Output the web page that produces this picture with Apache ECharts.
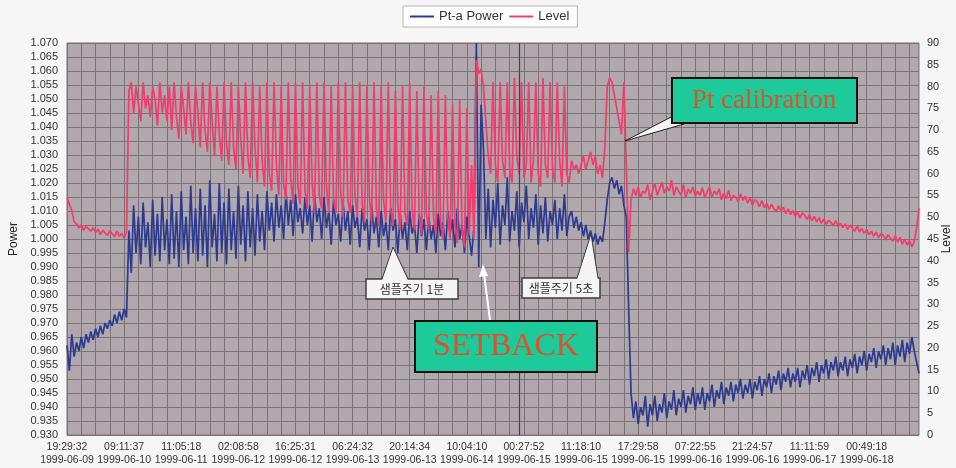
<!DOCTYPE html>
<html>
<head>
<meta charset="utf-8">
<title>Pt-a Power / Level</title>
<script src="https://cdn.jsdelivr.net/npm/echarts@6/dist/echarts.min.js"></script>
<style>
  html, body { margin: 0; padding: 0; background: #f6f6f6; }
  #chart { width: 956px; height: 468px; }
</style>
</head>
<body>
<div id="chart"></div>
<script>
// Tick labels shown under the sample axis (one every SAMPLES_PER_LABEL samples)
const tickTimes = ['19:29:32', '09:11:37', '11:05:18', '02:08:58', '16:25:31', '06:24:32', '20:14:34',
  '10:04:10', '00:27:52', '11:18:10', '17:29:58', '07:22:55', '21:24:57', '11:11:59', '00:49:18'];
const tickDates = ['1999-06-09', '1999-06-10', '1999-06-11', '1999-06-12', '1999-06-12', '1999-06-13', '1999-06-13',
  '1999-06-14', '1999-06-15', '1999-06-15', '1999-06-15', '1999-06-16', '1999-06-16', '1999-06-17', '1999-06-18'];
const SAMPLES_PER_LABEL = 24;
const SAMPLES_PER_GRID = 6;

// Pt-a Power, by operating phase
const powerInitial = [0.962, 0.953, 0.966, 0.958, 0.963, 0.960, 0.965, 0.961, 0.966, 0.963, 0.967, 0.964, 0.968,
  0.965, 0.969, 0.966, 0.970, 0.968, 0.971, 0.969, 0.973, 0.970, 0.974, 0.971, 0.975, 0.972];
const powerOscillating = [
  1.003, 0.988, 1.012, 0.995, 1.008, 0.991, 1.013, 0.997, 1.006, 0.990, 1.014, 0.994, 1.009, 0.992, 1.015, 0.996, 1.007, 0.991,
  1.016, 0.993, 1.010, 0.990, 1.017, 0.996, 1.008, 0.991, 1.019, 0.995, 1.011, 0.992, 1.018,
  0.994, 1.012, 0.990, 1.021, 0.997, 1.009, 0.992, 1.020, 0.995, 1.013, 0.991, 1.018,
  0.996, 1.010, 0.993, 1.019, 0.998, 1.012, 0.992, 1.017, 0.997, 1.011, 0.994, 1.016, 0.999,
  1.010, 0.996, 1.017, 1.003, 1.013, 0.999, 1.016, 1.004, 1.012, 1.000, 1.017, 1.005, 1.014, 1.001, 1.016, 1.006, 1.011,
  1.002, 1.015, 1.005, 1.012, 0.999, 1.016, 1.006, 1.011, 1.000, 1.015, 1.004, 1.010, 0.998, 1.014, 1.005, 1.009, 0.999,
  1.013, 1.003, 1.010, 0.998, 1.012, 1.004, 1.008, 0.997,
  1.011, 1.003, 1.007, 0.996, 1.012, 1.002, 1.008, 0.997, 1.010, 1.001, 1.006, 0.996, 1.011, 1.003, 1.007, 0.995, 1.009,
  1.000, 1.006, 0.996, 1.010, 1.002, 1.005, 0.995, 1.009, 1.001, 1.007, 0.996, 1.008, 1.000, 1.005, 0.995, 1.009, 1.001,
  1.006, 0.996, 1.010, 1.002, 1.007, 0.997, 1.011, 1.000, 1.005, 0.995, 1.008, 1.001, 0.994, 1.004];
const powerSetback = [1.070, 0.990, 1.048];
const powerRecovery = [
  1.032, 1.000, 1.018, 0.997, 1.014, 1.004, 1.020, 0.998, 1.012, 1.005, 1.022, 0.999, 1.010, 1.003, 1.017, 0.997,
  1.013, 1.006, 1.019, 1.000, 1.011, 1.004, 1.016, 0.998, 1.012, 1.002, 1.015, 0.999, 1.010, 1.005, 1.014, 1.000,
  1.011, 1.003, 1.016, 1.001, 1.008,
  1.010, 1.004, 1.008, 1.003, 1.006, 1.001, 1.005, 1.000, 1.003, 0.999, 1.002, 0.998, 1.001, 0.999, 1.006];
const powerCalibration = [1.014, 1.020, 1.022, 1.018, 1.021, 1.016, 1.019, 1.012, 1.008];
const powerAfter = [
  0.975, 0.945, 0.936, 0.942, 0.934, 0.940, 0.937, 0.944, 0.933, 0.941,
  0.937, 0.944, 0.935, 0.941, 0.938, 0.945, 0.936, 0.942, 0.939, 0.946,
  0.937, 0.943, 0.940, 0.946, 0.938, 0.944, 0.941, 0.947, 0.939, 0.945,
  0.941, 0.947, 0.939, 0.945, 0.942, 0.948, 0.940, 0.946, 0.943, 0.949,
  0.941, 0.947, 0.944, 0.949, 0.942, 0.948, 0.945, 0.950, 0.943, 0.948,
  0.945, 0.950, 0.943, 0.949, 0.946, 0.951, 0.944, 0.950, 0.947, 0.952,
  0.945, 0.951, 0.948, 0.953, 0.946, 0.952, 0.949, 0.954, 0.947, 0.952,
  0.949, 0.954, 0.947, 0.953, 0.950, 0.955, 0.948, 0.954, 0.951, 0.956,
  0.949, 0.955, 0.952, 0.957, 0.950, 0.956, 0.953, 0.958, 0.951, 0.956,
  0.953, 0.958, 0.951, 0.957, 0.954, 0.959, 0.952, 0.958, 0.955, 0.960,
  0.953, 0.959, 0.956, 0.961, 0.954, 0.960, 0.957, 0.962, 0.955, 0.961,
  0.957, 0.963, 0.955, 0.962, 0.958, 0.964, 0.956, 0.963, 0.959, 0.965,
  0.960, 0.956, 0.952];

// Level, by operating phase
const levelInitial = [54.5, 53, 51.5, 49, 48.5, 47.5, 48.2, 47, 48, 47.3, 46.8, 47.6, 46.5, 47.2, 46, 47, 46.4,
  45.8, 46.9, 46.2, 45.5, 46.8, 45.6, 46.3, 45.2, 46.5];
const levelOscillating = [
  79, 81, 74, 80, 76, 72, 81, 75, 78, 73, 80, 77, 71, 81, 74, 78, 72, 80,
  70, 81, 73, 68, 80, 75, 69, 81, 72, 67, 80, 74, 66,
  81, 70, 65, 81, 72, 64, 80, 69, 63, 81, 67, 62,
  81, 66, 61, 80, 68, 60, 81, 64, 59, 81, 66, 58, 80,
  63, 57, 81, 60, 56, 81, 62, 55, 80, 58, 54, 81, 59, 53, 81, 57, 53,
  81, 56, 52, 80, 58, 51, 81, 55, 52, 81, 57, 51, 80, 54, 51, 81, 56, 50, 81, 54, 51, 80, 55, 50, 81,
  53, 49, 80, 55, 49, 81, 52, 48, 80, 54, 49, 81, 52, 48, 79, 53, 47, 80, 51, 48, 81, 52, 47, 79, 50, 46,
  80, 51, 47, 78, 50, 46, 79, 49,
  45, 78, 50, 45, 76, 48, 44, 77, 47, 43, 75, 46, 62, 45];
const levelSetback = [86, 83, 84];
const levelRecovery = [
  80, 72, 64, 60, 81, 62, 58, 81, 63, 59, 81, 61, 58, 82, 64, 60, 81, 59, 62, 81, 58, 63, 81, 60, 57, 82,
  62, 59, 81, 61, 58, 81, 63, 57, 80, 60, 58,
  63, 61, 62, 60, 62, 64, 61, 63, 65, 62, 64, 60, 62, 59, 66];
const levelCalibration = [80, 82, 81, 78, 75, 72, 69, 81, 62];
const levelAfter = [
  42, 54, 56.5, 55, 57, 54.5, 56, 55.5, 57.5, 54,
  56, 57.8, 55, 56.5, 58, 55.5, 57, 56, 58.5, 55,
  57, 56, 55, 57.5, 54.5, 56.5, 55.5, 57, 54.8, 56,
  55, 56.8, 54.5, 55.8, 57, 54.6, 56, 55.2, 56.5, 54,
  55.5, 54.3, 56.2, 53.8, 55, 54.6, 53.5, 55.4, 53.9, 54.8,
  53.2, 54.5, 52.8, 54, 53.6, 52.4, 53.8, 52.2, 53.2, 51.8,
  53, 52, 51.2, 52.6, 51.5, 52.3, 50.8, 51.9, 50.6, 51.5,
  50.2, 51.2, 49.8, 51, 50.4, 49.5, 50.6, 49.2, 50.2, 48.9,
  49.9, 48.6, 49.6, 48.4, 49.3, 48.8, 48, 49.2, 47.8, 48.6,
  47.6, 48.5, 47.2, 48.2, 47.5, 46.8, 48, 46.6, 47.4, 46.3,
  47.2, 46, 46.8, 45.6, 46.6, 45.3, 46.2, 45.9, 44.8, 46,
  45.2, 44.5, 45.8, 44.3, 45.4, 43.8, 45, 43.6, 44.6, 43.2,
  44.5, 47.5, 52];

// Sampling switches from 1 min to 5 s at this sample
const samplingSwitchIndex = 190;

const power = [].concat(powerInitial, powerOscillating, powerSetback, powerRecovery, powerCalibration, powerAfter);
const level = [].concat(levelInitial, levelOscillating, levelSetback, levelRecovery, levelCalibration, levelAfter);
const categories = power.map((_, i) => String(i));

const FONT = '"Liberation Sans", Arial, sans-serif';
const GRID_COLOR = '#7b7277';
const BOX_FILL = '#f5f5f5';

const chart = echarts.init(document.getElementById('chart'), null, { renderer: 'canvas' });

const option = {
  backgroundColor: '#f6f6f6',
  animation: false,
  textStyle: { fontFamily: FONT },
  legend: {
    left: 403, top: 6,
    padding: [4, 8, 4, 7],
    itemGap: 6, itemWidth: 24, itemHeight: 2,
    icon: 'rect',
    backgroundColor: '#ffffff',
    borderColor: '#b5b5b5', borderWidth: 1,
    textStyle: { fontSize: 13, color: '#333', fontFamily: FONT },
    data: ['Pt-a Power', 'Level']
  },
  grid: {
    left: 67, right: 37, top: 43, bottom: 33,
    outerBoundsMode: 'none',
    containLabel: false,
    show: true, backgroundColor: '#b0a8ad',
    borderColor: '#7b7277', borderWidth: 1
  },
  xAxis: {
    type: 'category',
    data: categories,
    boundaryGap: false,
    axisLine: { show: false },
    axisTick: { show: false },
    axisLabel: {
      interval: (i) => i % SAMPLES_PER_LABEL === 0,
      formatter: (v, i) => {
        const k = i / SAMPLES_PER_LABEL;
        return tickTimes[k] !== undefined ? tickTimes[k] + '\n' + tickDates[k] : '';
      },
      fontSize: 10.5, lineHeight: 13, color: '#333', margin: 6, fontFamily: FONT
    },
    splitLine: {
      show: true,
      interval: (i) => i % SAMPLES_PER_GRID === 0,
      lineStyle: { color: GRID_COLOR, width: 1 }
    }
  },
  yAxis: [
    {
      type: 'value', min: 0.930, max: 1.070, interval: 0.005,
      name: 'Power', nameLocation: 'middle', nameGap: 42, nameRotate: 90,
      nameTextStyle: { fontSize: 12, color: '#222', fontFamily: FONT },
      axisLine: { show: false }, axisTick: { show: false },
      axisLabel: { formatter: (v) => v.toFixed(3), fontSize: 11, color: '#333', margin: 9, fontFamily: FONT },
      splitLine: { show: true, lineStyle: { color: GRID_COLOR, width: 1 } }
    },
    {
      type: 'value', min: 0, max: 90, interval: 5, position: 'right',
      axisLine: { show: false }, axisTick: { show: false },
      axisLabel: { fontSize: 11, color: '#333', margin: 8, fontFamily: FONT },
      splitLine: { show: false }
    }
  ],
  series: [
    {
      name: 'Pt-a Power', type: 'line', yAxisIndex: 0,
      data: power, showSymbol: false, sampling: null,
      color: '#2c3a8f',
      lineStyle: { width: 1.7, color: '#2c3a8f' },
      markLine: {
        silent: true, symbol: 'none', label: { show: false },
        lineStyle: { color: '#4a4146', width: 1.2, type: 'solid' },
        data: [{ xAxis: samplingSwitchIndex }]
      }
    },
    {
      name: 'Level', type: 'line', yAxisIndex: 1,
      data: level, showSymbol: false, sampling: null,
      color: '#f23c6e',
      lineStyle: { width: 1.7, color: '#f23c6e' }
    }
  ],
  graphic: [
    // Right axis title, placed just outside the tick labels
    { type: 'text', x: 947, y: 239, rotation: Math.PI / 2,
      style: { text: 'Level', font: '12px "Liberation Sans", Arial, sans-serif', fill: '#222',
        align: 'center', verticalAlign: 'middle' } },

    // "샘플주기 1분" callout
    { type: 'rect', z: 100, shape: { x: 366, y: 279, width: 92, height: 20 },
      style: { fill: BOX_FILL, stroke: '#3d3d3d', lineWidth: 1.5 } },
    { type: 'polygon', z: 101, shape: { points: [[382, 280.5], [393, 247], [408, 280.5]] },
      style: { fill: BOX_FILL } },
    { type: 'polyline', z: 102, shape: { points: [[382, 279], [393, 247], [408, 279]] },
      style: { stroke: '#3d3d3d', lineWidth: 1, fill: null } },
    { type: 'text', z: 103, x: 412, y: 289.5,
      style: { text: '샘플주기 1분', font: '12px "Noto Sans CJK KR", sans-serif', fill: '#333',
        align: 'center', verticalAlign: 'middle' } },

    // "샘플주기 5초" callout
    { type: 'rect', z: 100, shape: { x: 522, y: 278, width: 78, height: 20 },
      style: { fill: BOX_FILL, stroke: '#3d3d3d', lineWidth: 1.5 } },
    { type: 'polygon', z: 101, shape: { points: [[577, 279.5], [591, 234], [598, 279.5]] },
      style: { fill: BOX_FILL } },
    { type: 'polyline', z: 102, shape: { points: [[577, 278], [591, 234], [598, 278]] },
      style: { stroke: '#3d3d3d', lineWidth: 1, fill: null } },
    { type: 'text', z: 103, x: 561, y: 288.5,
      style: { text: '샘플주기 5초', font: '12px "Noto Sans CJK KR", sans-serif', fill: '#333',
        align: 'center', verticalAlign: 'middle' } },

    // SETBACK label with arrow
    { type: 'line', z: 100, shape: { x1: 490, y1: 320, x2: 484, y2: 274 },
      style: { stroke: '#ffffff', lineWidth: 2 } },
    { type: 'polygon', z: 100, shape: { points: [[483, 264], [479, 277], [488, 276]] },
      style: { fill: '#ffffff' } },
    { type: 'rect', z: 100, shape: { x: 415, y: 321, width: 182, height: 51 },
      style: { fill: '#1ec99a', stroke: '#111', lineWidth: 2 } },
    { type: 'text', z: 101, x: 506, y: 347,
      style: { text: 'SETBACK', font: '32px "Liberation Serif", "Times New Roman", serif', fill: '#e2502a',
        align: 'center', verticalAlign: 'middle' } },

    // Pt calibration label with pointer
    { type: 'polygon', z: 100, shape: { points: [[625, 141], [673, 116], [684, 124]] },
      style: { fill: BOX_FILL, stroke: '#222', lineWidth: 1 } },
    { type: 'rect', z: 101, shape: { x: 672, y: 78, width: 185, height: 45 },
      style: { fill: '#1ec99a', stroke: '#111', lineWidth: 2 } },
    { type: 'text', z: 102, x: 764, y: 101,
      style: { text: 'Pt calibration', font: '27px "Liberation Serif", "Times New Roman", serif', fill: '#d9552a',
        align: 'center', verticalAlign: 'middle' } }
  ]
};

chart.setOption(option);
</script>
</body>
</html>
